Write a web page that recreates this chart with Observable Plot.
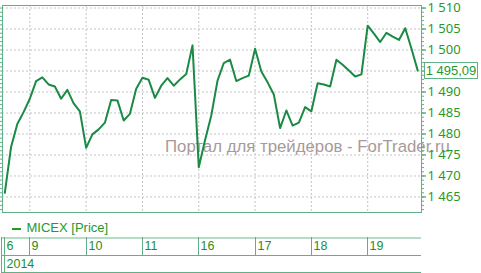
<!DOCTYPE html>
<html><head><meta charset="utf-8">
<script src="https://cdn.jsdelivr.net/npm/d3@7"></script>
<script src="https://cdn.jsdelivr.net/npm/@observablehq/plot@0.6"></script>
<style>
body{margin:0;background:#fff;font-family:"Liberation Sans",Arial,sans-serif;}
#wrap{position:relative;width:481px;height:273px;overflow:hidden;}
#wrap svg{position:absolute;left:0;top:0;}
.abs{position:absolute;white-space:nowrap;line-height:1;}
</style></head><body><div id="wrap"></div>
<script>
const seriesName = "MICEX [Price]";
const yearLabel = "2014";
const dayLabels = ["6", "9", "10", "11", "16", "17", "18", "19"];
const dayStartIndex = [0, 4, 13, 22, 31, 40, 49, 58];
const prices = [
  1466.0, 1476.9, 1482.4, 1485.2,
  1488.4, 1492.6, 1493.5, 1491.8, 1491.3, 1488.4, 1490.5, 1487.3, 1485.4,
  1476.7, 1479.9, 1481.1, 1482.7, 1488.1, 1488.0, 1483.2, 1484.8, 1490.8,
  1493.4, 1492.9, 1488.6, 1491.5, 1493.3, 1491.5, 1493.0, 1494.3, 1501.1,
  1472.1, 1478.5, 1484.4, 1492.7, 1496.9, 1497.7, 1492.6, 1493.3, 1493.9,
  1500.3, 1494.9, 1492.3, 1489.4, 1481.4, 1485.6, 1482.0, 1482.7, 1486.4,
  1485.4, 1492.1, 1491.8, 1491.3, 1497.7, 1496.5, 1495.1, 1493.7, 1494.2,
  1505.8, 1503.9, 1501.9, 1504.1, 1503.2, 1502.4, 1505.2, 1500.3, 1495.09
];
const yTicks = [1465, 1470, 1475, 1480, 1485, 1490, 1495, 1500, 1505, 1510];
const yMinorTicks = d3.range(1462, 1511);
const watermark = "Портал для трейдеров - ForTrader.ru";

const frameColor = "#62b088";
const lineColor = "#1b8a45";
const textGreen = "#249a2c";

const data = prices.map((v, i) => ({i, v}));
const fmt = d => d3.format(",")(d).replace(/,/g, " ");
const lastValue = prices[prices.length - 1];
const lastFmt = fmt(Math.floor(lastValue)) + "," + d3.format("02")(Math.round((lastValue % 1) * 100));
// the last-value box hides the tick label it sits on
const labelTicks = yTicks.filter(t => Math.abs(t - lastValue) > 2.5);

const plot = Plot.plot({
  width: 481, height: 214,
  marginLeft: 2, marginRight: 60, marginTop: 5, marginBottom: 2,
  x: {domain: [-0.37, 66.6], axis: null},
  y: {domain: [1461.3, 1510.6], axis: null},
  marks: [
    Plot.ruleY(yTicks, {stroke: "#c4c4c4", strokeDasharray: "2,2"}),
    Plot.ruleX(dayStartIndex.slice(1), {stroke: "#c4c4c4", strokeDasharray: "2,2"}),
    Plot.axisY(yMinorTicks, {anchor: "right", tickSize: 2, tickFormat: () => "", stroke: frameColor, label: null}),
    Plot.axisY(yMinorTicks, {anchor: "left", tickSize: 2, tickFormat: () => "", stroke: frameColor, label: null}),
    Plot.axisY(yTicks, {anchor: "right", tickSize: 4, tickFormat: () => "", stroke: frameColor, label: null}),
    Plot.axisY(labelTicks, {anchor: "right", tickSize: 4, tickPadding: 2, tickFormat: fmt, fill: textGreen, stroke: frameColor, fontSize: 13, label: null}),
    Plot.frame({stroke: frameColor}),
    Plot.line(data, {x: "i", y: "v", stroke: lineColor, strokeWidth: 2})
  ]
});

const wrap = document.getElementById("wrap");
const xs = plot.scale("x");
const ys = plot.scale("y");

function add(html, css) {
  const d = document.createElement("div");
  d.className = "abs";
  d.textContent = html;
  Object.assign(d.style, css);
  wrap.appendChild(d);
  return d;
}

// watermark behind plot
add(watermark, {left: "165px", top: "139px", fontSize: "16.8px", color: "#a89a9a"});
wrap.appendChild(plot);

// last value box
const yl = ys.apply(lastValue);
add(lastFmt, {left: "424px", top: (yl - 8) + "px", width: "52px", height: "15px", border: "1px solid " + frameColor,
  background: "#fff", color: textGreen, fontSize: "13px", lineHeight: "15px", textAlign: "center"});

// legend
add("", {left: "12px", top: "228px", width: "9px", height: "2px", background: textGreen});
add(seriesName, {left: "26.5px", top: "221.3px", fontSize: "13px", color: textGreen});

// table
const x0 = 1, x1 = xs.range[1];
add("", {left: x0 + "px", top: "237px", width: (x1 - x0) + "px", height: "2px", background: "#b5dcc6"});
add("", {left: x0 + "px", top: "255px", width: (x1 - x0) + "px", height: "1px", background: frameColor});
add("", {left: x0 + "px", top: "272px", width: (x1 - x0) + "px", height: "1px", background: frameColor});
add("", {left: "1px", top: "237px", width: "1px", height: "35px", background: frameColor});
add("", {left: "4px", top: "237px", width: "1px", height: "35px", background: frameColor});
dayLabels.forEach((lab, k) => {
  const bx = k === 0 ? 4 : Math.round(xs.apply(dayStartIndex[k]));
  if (k > 0) add("", {left: bx + "px", top: "237px", width: "1px", height: "18px", background: frameColor});
  add(lab, {left: (bx + 2.5) + "px", top: "240.1px", fontSize: "12.5px", color: "#1f8f25"});
});
add(yearLabel, {left: "6.5px", top: "257.7px", fontSize: "12.5px", color: "#1f8f25"});
</script></body></html>
